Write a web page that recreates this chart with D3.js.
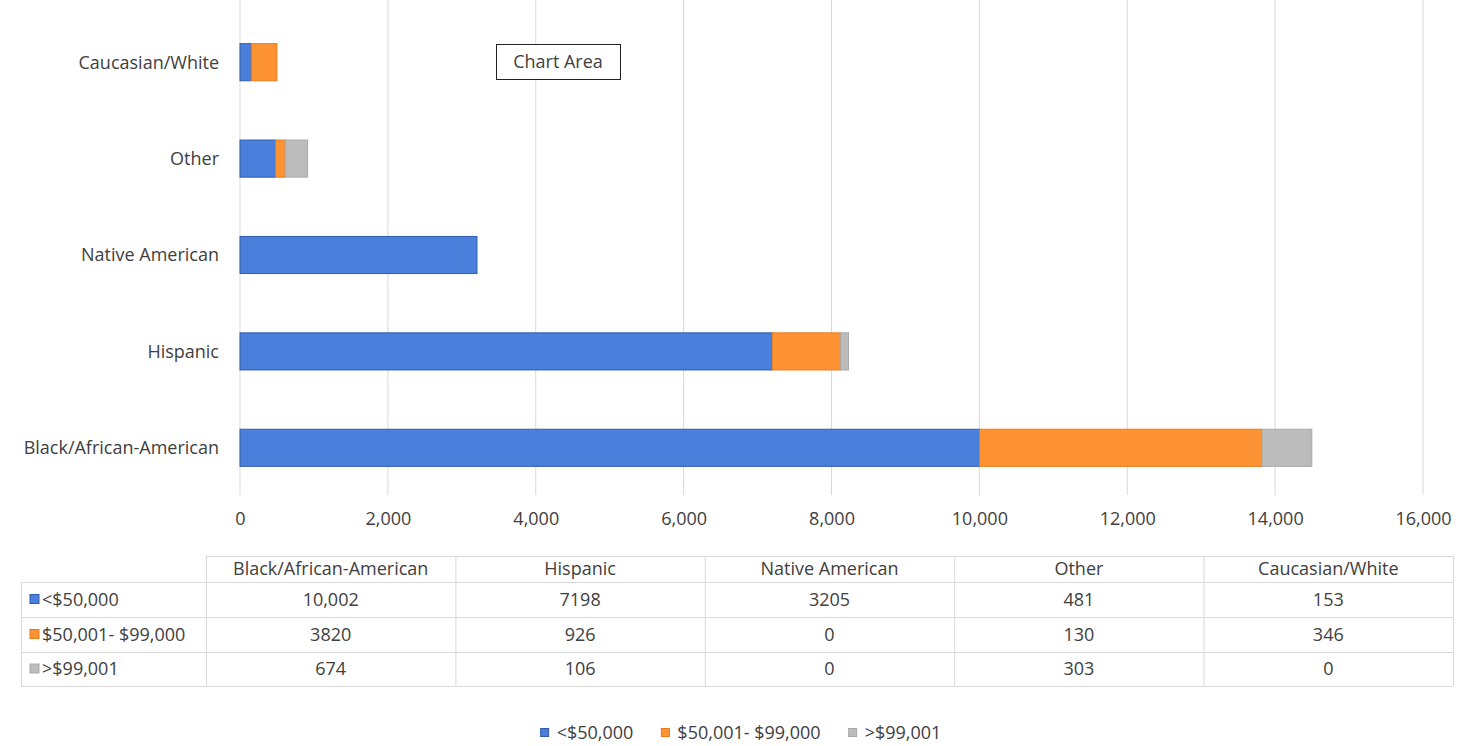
<!DOCTYPE html>
<html>
<head>
<meta charset="utf-8">
<script src="https://cdn.jsdelivr.net/npm/d3@7"></script>
<style>
  body { margin: 0; background: #fff; }
  text { font-family: "Open Sans", "Liberation Sans", sans-serif; fill: #404040; }
</style>
</head>
<body>
<div id="chart"></div>
<script>
// data
const groups = ["Black/African-American", "Hispanic", "Native American", "Other", "Caucasian/White"];
const seriesNames = ["<$50,000", "$50,001- $99,000", ">$99,001"];
const under50 = [10002, 7198, 3205, 481, 153];
const mid50to99 = [3820, 926, 0, 130, 346];
const over99 = [674, 106, 0, 303, 0];
const tableText = [
  ["10,002", "7198", "3205", "481", "153"],
  ["3820", "926", "0", "130", "346"],
  ["674", "106", "0", "303", "0"]
];
const xTicks = [0, 2000, 4000, 6000, 8000, 10000, 12000, 14000, 16000];

const colors = ["#4a7fdc", "#fd9333", "#bcbcbc"];
const strokes = ["#2f5cab", "#e87a1c", "#a9a9a9"];
const fs = 18;

const width = 1471, height = 746;
const svg = d3.select("#chart").append("svg")
  .attr("width", width)
  .attr("height", height);

const x = d3.scaleLinear().domain([0, 16000]).range([240, 1423]);
// top of chart = last category
const y = d3.scalePoint().domain(groups.slice().reverse()).range([14, 496]).padding(0.5);
const barH = y.step() * 0.385;

// gridlines
svg.append("g")
  .selectAll("line")
  .data(xTicks)
  .join("line")
  .attr("x1", d => x(d)).attr("x2", d => x(d))
  .attr("y1", 0).attr("y2", 495)
  .attr("stroke", "#d9d9d9")
  .attr("stroke-width", 1);

// tick labels
const xAxis = d3.axisBottom(x).tickValues(xTicks).tickFormat(d3.format(",")).tickSize(0).tickPadding(0);
const gx = svg.append("g").attr("transform", "translate(0,512)").call(xAxis);
gx.select(".domain").remove();
gx.selectAll("text").attr("font-size", fs).attr("fill", "#404040")
  .attr("font-family", "'Open Sans', 'Liberation Sans', sans-serif");

// stacked bars
const rows = groups.map((g, i) => ({ group: g, s0: under50[i], s1: mid50to99[i], s2: over99[i] }));
const stack = d3.stack().keys(["s0", "s1", "s2"]);
const layers = stack(rows);

svg.append("g")
  .selectAll("g")
  .data(layers)
  .join("g")
  .attr("fill", (d, i) => colors[i])
  .attr("stroke", (d, i) => strokes[i])
  .attr("stroke-width", 1)
  .selectAll("rect")
  .data(d => d.filter(p => p[1] - p[0] > 0))
  .join("rect")
  .attr("x", d => x(d[0]))
  .attr("width", d => x(d[1]) - x(d[0]))
  .attr("y", d => y(d.data.group) - barH / 2)
  .attr("height", barH);

// category labels
svg.append("g")
  .selectAll("text")
  .data(groups)
  .join("text")
  .attr("x", 219)
  .attr("y", d => y(d))
  .attr("dy", "0.35em")
  .attr("text-anchor", "end")
  .attr("font-size", fs)
  .text(d => d);

// "Chart Area" tooltip box
const tip = svg.append("g");
tip.append("rect").attr("x", 496.5).attr("y", 44.5).attr("width", 124).attr("height", 35)
  .attr("fill", "#fff").attr("stroke", "#222").attr("stroke-width", 1);
tip.append("text").attr("x", 558).attr("y", 62).attr("dy", "0.35em")
  .attr("text-anchor", "middle").attr("font-size", fs).attr("fill", "#222").text("Chart Area");

// data table
const colEdges = [21, 206].concat(groups.map((g, i) => 206 + (i + 1) * 249.4));
const rowEdges = [556, 582, 617, 652, 686];
const tbl = svg.append("g").attr("stroke", "#d9d9d9").attr("stroke-width", 1);
tbl.selectAll("line.h")
  .data(rowEdges)
  .join("line")
  .attr("class", "h")
  .attr("x1", (d, i) => i === 0 ? 206 : 21)
  .attr("x2", 1453)
  .attr("y1", d => d + 0.5).attr("y2", d => d + 0.5);
tbl.selectAll("line.v")
  .data(colEdges)
  .join("line")
  .attr("class", "v")
  .attr("x1", d => d + 0.5).attr("x2", d => d + 0.5)
  .attr("y1", (d, i) => i === 0 ? 582 : 556)
  .attr("y2", 686);

const colMid = i => (colEdges[i + 1] + colEdges[i + 2]) / 2;
const rowMid = i => (rowEdges[i] + rowEdges[i + 1]) / 2;

svg.append("g")
  .selectAll("text")
  .data(groups)
  .join("text")
  .attr("x", (d, i) => colMid(i))
  .attr("y", rowMid(0))
  .attr("dy", "0.35em")
  .attr("text-anchor", "middle")
  .attr("font-size", fs)
  .text(d => d);

seriesNames.forEach((name, r) => {
  const g = svg.append("g");
  g.append("rect").attr("x", 30).attr("y", rowMid(r + 1) - 5).attr("width", 9).attr("height", 9)
    .attr("fill", colors[r]).attr("stroke", strokes[r]);
  g.append("text").attr("x", 42).attr("y", rowMid(r + 1)).attr("dy", "0.35em")
    .attr("font-size", fs).text(name);
  g.selectAll("text.v")
    .data(tableText[r])
    .join("text")
    .attr("class", "v")
    .attr("x", (d, i) => colMid(i))
    .attr("y", rowMid(r + 1))
    .attr("dy", "0.35em")
    .attr("text-anchor", "middle")
    .attr("font-size", fs)
    .text(d => d);
});

// legend, laid out from text widths and centred
const legend = svg.append("g").attr("transform", "translate(0,733)");
const items = legend.selectAll("g")
  .data(seriesNames)
  .join("g");
items.append("rect").attr("x", 0).attr("y", -4.5).attr("width", 8).attr("height", 8)
  .attr("fill", (d, i) => colors[i]).attr("stroke", (d, i) => strokes[i]);
items.append("text").attr("x", 16).attr("dy", "0.35em").attr("font-size", fs).text(d => d);
let pos = 0;
const offsets = [];
items.each(function () {
  offsets.push(pos);
  pos += 16 + d3.select(this).select("text").node().getComputedTextLength() + 28;
});
const total = pos - 28;
const start = 741 - total / 2;
items.attr("transform", (d, i) => `translate(${start + offsets[i]},0)`);
</script>
</body>
</html>
